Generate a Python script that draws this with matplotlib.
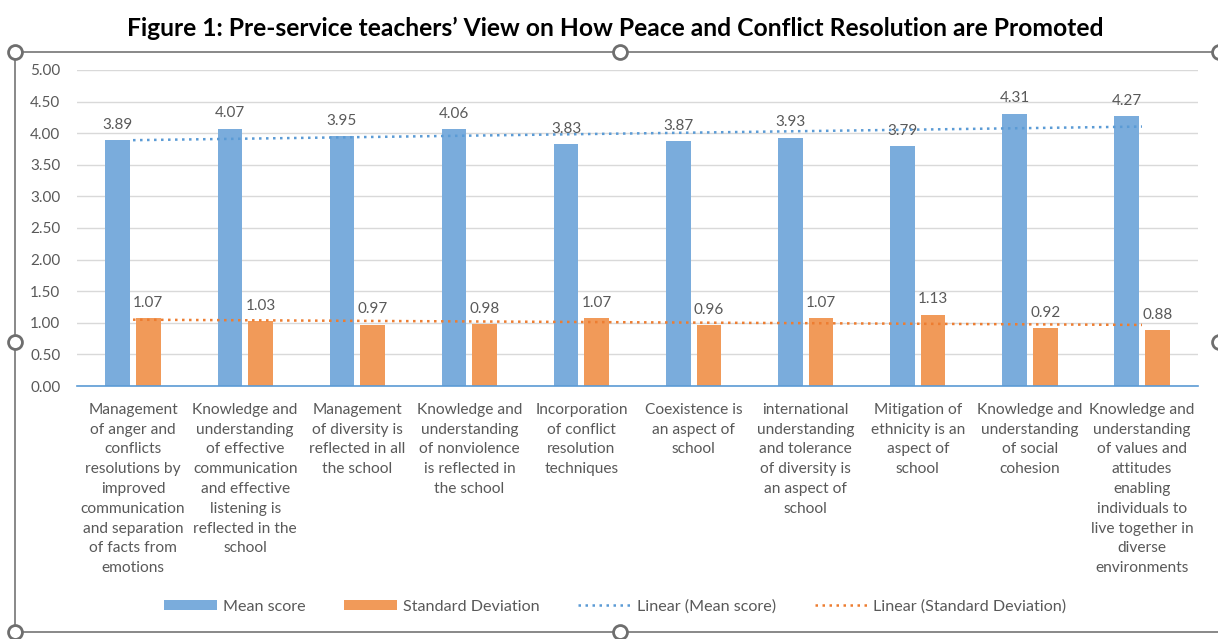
import numpy as np
import matplotlib.pyplot as plt
from matplotlib.lines import Line2D

plt.rcParams['font.family'] = ['Lato', 'DejaVu Sans']

categories = [
    "Management\nof anger and\nconflicts\nresolutions by\nimproved\ncommunication\nand separation\nof facts from\nemotions",
    "Knowledge and\nunderstanding\nof effective\ncommunication\nand effective\nlistening is\nreflected in the\nschool",
    "Management\nof diversity is\nreflected in all\nthe school",
    "Knowledge and\nunderstanding\nof nonviolence\nis reflected in\nthe school",
    "Incorporation\nof conflict\nresolution\ntechniques",
    "Coexistence is\nan aspect of\nschool",
    "international\nunderstanding\nand tolerance\nof diversity is\nan aspect of\nschool",
    "Mitigation of\nethnicity is an\naspect of\nschool",
    "Knowledge and\nunderstanding\nof social\ncohesion",
    "Knowledge and\nunderstanding\nof values and\nattitudes\nenabling\nindividuals to\nlive together in\ndiverse\nenvironments",
]
mean_score = [3.89, 4.07, 3.95, 4.06, 3.83, 3.87, 3.93, 3.79, 4.31, 4.27]
std_dev = [1.07, 1.03, 0.97, 0.98, 1.07, 0.96, 1.07, 1.13, 0.92, 0.88]

blue = "#7AACDC"
orange = "#F19A59"
txt = "#595959"

fig = plt.figure(figsize=(12.18, 6.39), dpi=100)
ax = fig.add_axes([0.0632, 0.3959, 0.9204, 0.4946])

x = np.arange(len(categories))
w = 0.22
gap = 0.053
b1 = ax.bar(x - (w + gap) / 2, mean_score, w, color=blue, label="Mean score", zorder=2)
b2 = ax.bar(x + (w + gap) / 2, std_dev, w, color=orange, label="Standard Deviation", zorder=2)

for r, v in zip(b1, mean_score):
    ax.annotate(f"{v:.2f}", (r.get_x() + r.get_width() / 2, v), xytext=(0, 6),
                textcoords="offset points", ha="center", va="bottom", fontsize=11, color=txt)
for r, v in zip(b2, std_dev):
    ax.annotate(f"{v:.2f}", (r.get_x() + r.get_width() / 2, v), xytext=(0, 6),
                textcoords="offset points", ha="center", va="bottom", fontsize=11, color=txt)

# linear trendlines (Excel style, x = 1..n)
xs = np.arange(1, len(categories) + 1)
pm = np.polyfit(xs, mean_score, 1)
ps = np.polyfit(xs, std_dev, 1)
ax.plot(x, np.polyval(pm, xs), color="#5B9BD5", lw=1.8, ls=(0, (1, 1.8)),
        label="Linear (Mean score)", zorder=3)
ax.plot(x, np.polyval(ps, xs), color="#ED7D31", lw=1.8, ls=(0, (1, 1.8)),
        label="Linear (Standard Deviation)", zorder=3)

ax.set_xlim(-0.5, len(categories) - 0.5)
ax.set_ylim(0, 5)
ax.set_yticks(np.arange(0, 5.01, 0.5))
ax.set_yticklabels([f"{t:.2f}" for t in np.arange(0, 5.01, 0.5)])
ax.set_xticks(x)
ax.set_xticklabels(categories, fontsize=11.2, color=txt, linespacing=1.53)
ax.tick_params(axis="y", length=0, labelsize=11, labelcolor=txt, pad=12)
ax.tick_params(axis="x", length=0, pad=12)
ax.grid(axis="y", color="#D9D9D9", lw=1, zorder=0)
for s in ["top", "right", "left"]:
    ax.spines[s].set_visible(False)
ax.spines["bottom"].set_color("#5B9BD5")
ax.spines["bottom"].set_linewidth(1.2)
ax.spines["bottom"].set_zorder(4)

h, l = ax.get_legend_handles_labels()
order = [2, 3, 0, 1]
fig.legend([h[i] for i in order], [l[i] for i in order], loc="center", bbox_to_anchor=(0.505, 0.051),
           ncol=4, frameon=False, fontsize=11.6, labelcolor=txt, handlelength=3.3,
           handleheight=0.6, columnspacing=2.4, handletextpad=0.35)

fig.text(0.505, 0.956, "Figure 1: Pre-service teachers\u2019 View on How Peace and Conflict Resolution are Promoted",
         ha="center", va="center", fontsize=17.7, fontweight="bold", color="black")

# chart selection frame with handles
W, H = 1218.0, 639.0
fc = "#7F7F7F"
def fx(px):
    return px / W
def fy(py):
    return 1 - py / H
fig.add_artist(Line2D([fx(15), fx(1218)], [fy(52), fy(52)], color=fc, lw=1.3))
fig.add_artist(Line2D([fx(15), fx(1218)], [fy(632), fy(632)], color=fc, lw=1.3))
fig.add_artist(Line2D([fx(15), fx(15)], [fy(52), fy(632)], color=fc, lw=1.3))
hx = [15, 620, 1219, 15, 1219, 15, 620]
hy = [52, 52, 52, 342, 342, 632, 632]
fig.add_artist(Line2D([fx(a) for a in hx], [fy(b) for b in hy], ls="none", marker="o",
                      markersize=10, markerfacecolor="white", markeredgecolor="#6E6E6E",
                      markeredgewidth=2))

fig.savefig("out.png", dpi=100)
